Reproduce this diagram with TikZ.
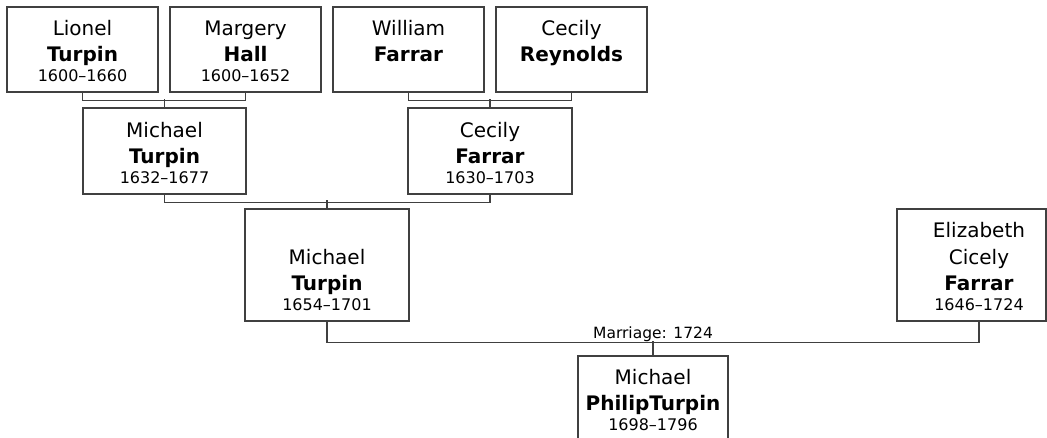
\documentclass[tikz,border=0pt]{standalone}
\usepackage{fontspec}
\setmainfont{DejaVu Sans}

\newcommand{\namefont}{\fontsize{20}{26.5}\selectfont}
\newcommand{\yearfont}{\fontsize{16}{20}\selectfont}
% width, height, first names, surname, years
\newcommand{\person}[5]{\parbox[c][#2][b]{#1}{\centering
    {\namefont #3\par}
    {\namefont\bfseries #4\par}
    {\yearfont\leavevmode\vphantom{0}#5\par}
    \vspace{10pt}}}

\begin{document}
\begin{tikzpicture}[x=1pt,y=-1pt,
    pbox/.style={draw=black!75,line width=1.2pt,inner sep=0pt,fill=white},
    link/.style={draw=black!75,line width=1.2pt}]
    \clip (0,0) rectangle (1047,437);

    \newcommand{\RA}{49.5}
    \newcommand{\RB}{151}
    \newcommand{\RC}{265}

    % grandparents
    \node[pbox] (lionel) at (82.5,\RA) {\person{151pt}{85pt}{Lionel}{Turpin}{1600–1660}};
    \node[pbox] (margery) at (245.5,\RA) {\person{151pt}{85pt}{Margery}{Hall}{1600–1652}};
    \node[pbox] (william) at (408.5,\RA) {\person{151pt}{85pt}{William}{Farrar}{}};
    \node[pbox] (cecilyR) at (571.5,\RA) {\person{151pt}{85pt}{Cecily}{Reynolds}{}};

    % parents
    \node[pbox] (michaelA) at (164.5,\RB) {\person{163pt}{86pt}{Michael}{Turpin}{1632–1677}};
    \node[pbox] (cecilyF) at (490,\RB) {\person{164pt}{86pt}{Cecily}{Farrar}{1630–1703}};

    \node[pbox] (michaelB) at (327,\RC) {\person{164pt}{112pt}{Michael}{Turpin}{1654–1701}};
    \node[pbox] (elizabeth) at (971.5,\RC) {\makebox[149pt][l]{\person{164pt}{112pt}{Elizabeth\\Cicely}{Farrar}{1646–1724}}};

    \node[pbox] (philip) at (653,398.5) {\person{150pt}{85pt}{Michael}{PhilipTurpin}{1698–1796}};

    \draw[link] (lionel.south) -- ++(0,8) -| (margery.south);
    \draw[link] (michaelA.north) -- ++(0,-8);
    \draw[link] (william.south) -- ++(0,8) -| (cecilyR.south);
    \draw[link] (cecilyF.north) -- ++(0,-8);

    \draw[link] (michaelA.south) -- ++(0,7.5) -| (cecilyF.south);
    \draw[link] (michaelB.north) -- ++(0,-8.5);

    \draw[link] (michaelB.south) -- ++(0,21) -| ([xshift=7.5pt]elizabeth.south)
        node[pos=0.25,above,inner sep=0.6pt,font=\fontsize{15.5}{18}\selectfont] (marriage) {Marriage: 1724};
    \draw[link] (philip.north) -- ++(0,-14);
\end{tikzpicture}
\end{document}
